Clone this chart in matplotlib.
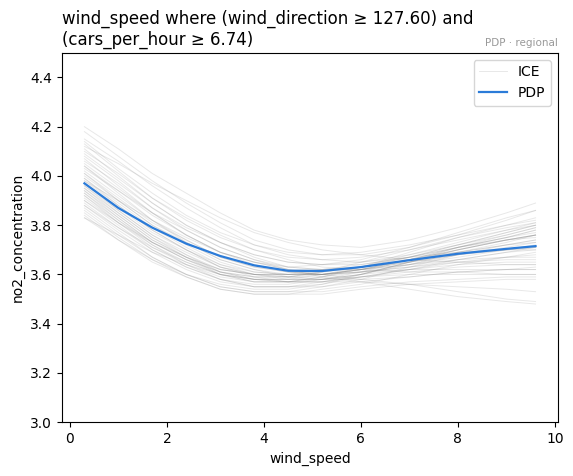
import numpy as np
import matplotlib
matplotlib.use("Agg")
from matplotlib import pyplot as plt

wind_speed = [0.3, 1.0, 1.7, 2.4, 3.1, 3.8, 4.5, 5.2, 6.0, 7.0, 8.0, 9.0, 9.6]

pdp_values = [3.97, 3.87, 3.79, 3.725, 3.675, 3.637, 3.615, 3.614, 3.63, 3.658, 3.684, 3.704, 3.715]

ice_curves = [
    [4.20, 4.11, 4.01, 3.93, 3.85, 3.78, 3.74, 3.72, 3.71, 3.74, 3.79, 3.85, 3.89],
    [4.18, 4.08, 3.98, 3.89, 3.81, 3.74, 3.70, 3.68, 3.68, 3.71, 3.76, 3.82, 3.86],
    [4.15, 4.06, 3.96, 3.87, 3.79, 3.72, 3.68, 3.66, 3.65, 3.67, 3.71, 3.75, 3.78],
    [4.13, 4.02, 3.91, 3.82, 3.75, 3.70, 3.67, 3.66, 3.67, 3.70, 3.74, 3.78, 3.80],
    [4.11, 4.00, 3.89, 3.80, 3.73, 3.68, 3.65, 3.64, 3.65, 3.68, 3.72, 3.76, 3.79],
    [4.10, 4.01, 3.91, 3.83, 3.76, 3.70, 3.66, 3.63, 3.62, 3.61, 3.61, 3.60, 3.60],
    [4.08, 3.98, 3.87, 3.78, 3.71, 3.66, 3.63, 3.62, 3.63, 3.66, 3.70, 3.74, 3.76],
    [4.07, 3.96, 3.85, 3.76, 3.69, 3.65, 3.63, 3.64, 3.66, 3.71, 3.77, 3.83, 3.86],
    [4.05, 3.95, 3.85, 3.76, 3.69, 3.64, 3.61, 3.60, 3.61, 3.63, 3.66, 3.69, 3.70],
    [4.04, 3.93, 3.82, 3.73, 3.66, 3.62, 3.60, 3.60, 3.62, 3.66, 3.71, 3.75, 3.78],
    [4.03, 3.94, 3.85, 3.78, 3.71, 3.66, 3.62, 3.59, 3.57, 3.54, 3.51, 3.49, 3.48],
    [4.02, 3.92, 3.82, 3.74, 3.67, 3.63, 3.61, 3.60, 3.61, 3.64, 3.67, 3.70, 3.72],
    [4.01, 3.90, 3.80, 3.72, 3.65, 3.61, 3.60, 3.61, 3.63, 3.67, 3.72, 3.77, 3.80],
    [4.00, 3.90, 3.80, 3.73, 3.66, 3.62, 3.59, 3.58, 3.58, 3.59, 3.61, 3.62, 3.63],
    [3.99, 3.89, 3.79, 3.71, 3.64, 3.60, 3.58, 3.58, 3.60, 3.64, 3.69, 3.73, 3.76],
    [3.98, 3.88, 3.78, 3.70, 3.63, 3.60, 3.59, 3.60, 3.62, 3.66, 3.70, 3.74, 3.76],
    [3.97, 3.87, 3.77, 3.70, 3.64, 3.61, 3.60, 3.60, 3.62, 3.65, 3.68, 3.70, 3.71],
    [3.97, 3.86, 3.76, 3.68, 3.61, 3.58, 3.57, 3.58, 3.60, 3.65, 3.71, 3.76, 3.79],
    [3.96, 3.86, 3.76, 3.69, 3.63, 3.60, 3.60, 3.60, 3.62, 3.64, 3.66, 3.67, 3.67],
    [3.95, 3.85, 3.75, 3.68, 3.62, 3.60, 3.59, 3.59, 3.61, 3.63, 3.65, 3.66, 3.66],
    [3.95, 3.84, 3.74, 3.67, 3.61, 3.58, 3.58, 3.60, 3.63, 3.68, 3.73, 3.78, 3.81],
    [3.94, 3.84, 3.74, 3.67, 3.62, 3.60, 3.60, 3.62, 3.64, 3.67, 3.69, 3.70, 3.70],
    [3.93, 3.83, 3.73, 3.66, 3.60, 3.57, 3.57, 3.57, 3.59, 3.61, 3.63, 3.64, 3.64],
    [3.93, 3.82, 3.72, 3.64, 3.58, 3.55, 3.55, 3.57, 3.60, 3.65, 3.70, 3.74, 3.76],
    [3.92, 3.82, 3.73, 3.66, 3.61, 3.59, 3.59, 3.61, 3.63, 3.67, 3.71, 3.74, 3.75],
    [3.91, 3.81, 3.72, 3.65, 3.60, 3.58, 3.58, 3.58, 3.60, 3.62, 3.64, 3.65, 3.65],
    [3.90, 3.80, 3.70, 3.63, 3.58, 3.56, 3.56, 3.58, 3.61, 3.66, 3.71, 3.75, 3.77],
    [3.89, 3.79, 3.70, 3.63, 3.58, 3.55, 3.55, 3.55, 3.57, 3.59, 3.61, 3.62, 3.62],
    [3.88, 3.78, 3.69, 3.62, 3.57, 3.55, 3.55, 3.56, 3.59, 3.62, 3.65, 3.67, 3.68],
    [3.87, 3.77, 3.67, 3.60, 3.55, 3.53, 3.53, 3.55, 3.58, 3.63, 3.68, 3.72, 3.74],
    [3.86, 3.76, 3.67, 3.60, 3.55, 3.53, 3.53, 3.53, 3.55, 3.57, 3.58, 3.59, 3.59],
    [3.85, 3.75, 3.66, 3.59, 3.54, 3.52, 3.52, 3.54, 3.56, 3.60, 3.64, 3.67, 3.69],
    [3.84, 3.74, 3.65, 3.59, 3.54, 3.52, 3.52, 3.52, 3.54, 3.56, 3.57, 3.58, 3.58],
    [3.83, 3.74, 3.66, 3.60, 3.56, 3.54, 3.54, 3.56, 3.60, 3.65, 3.70, 3.74, 3.76],
    [3.83, 3.76, 3.69, 3.64, 3.60, 3.58, 3.57, 3.57, 3.57, 3.56, 3.55, 3.54, 3.53],
    [4.06, 3.97, 3.87, 3.79, 3.73, 3.68, 3.65, 3.64, 3.64, 3.67, 3.72, 3.77, 3.80],
    [4.12, 4.05, 3.97, 3.90, 3.83, 3.77, 3.73, 3.70, 3.68, 3.66, 3.65, 3.64, 3.64],
    [4.09, 3.99, 3.89, 3.80, 3.73, 3.67, 3.63, 3.62, 3.62, 3.64, 3.68, 3.71, 3.73],
    [3.98, 3.90, 3.82, 3.75, 3.69, 3.65, 3.62, 3.60, 3.58, 3.56, 3.53, 3.50, 3.49],
    [3.96, 3.85, 3.75, 3.67, 3.60, 3.57, 3.57, 3.59, 3.63, 3.69, 3.75, 3.80, 3.83],
    [3.92, 3.81, 3.71, 3.64, 3.59, 3.57, 3.57, 3.59, 3.62, 3.66, 3.69, 3.72, 3.73],
    [3.90, 3.81, 3.73, 3.67, 3.62, 3.60, 3.60, 3.60, 3.61, 3.62, 3.62, 3.62, 3.62],
    [4.01, 3.91, 3.81, 3.74, 3.67, 3.63, 3.61, 3.60, 3.62, 3.65, 3.69, 3.72, 3.74],
    [3.99, 3.88, 3.78, 3.70, 3.63, 3.59, 3.57, 3.57, 3.59, 3.62, 3.66, 3.69, 3.71],
    [3.94, 3.83, 3.73, 3.66, 3.61, 3.59, 3.59, 3.61, 3.65, 3.70, 3.75, 3.79, 3.81],
    [4.14, 4.03, 3.93, 3.84, 3.77, 3.72, 3.69, 3.68, 3.69, 3.72, 3.76, 3.80, 3.82],
    [3.88, 3.79, 3.71, 3.65, 3.60, 3.58, 3.58, 3.58, 3.59, 3.60, 3.60, 3.60, 3.60],
    [4.04, 3.94, 3.84, 3.76, 3.69, 3.65, 3.62, 3.62, 3.63, 3.65, 3.68, 3.70, 3.71],
]

title = "wind_speed where (wind_direction \u2265 127.60) and\n(cars_per_hour \u2265 6.74)"

fig = plt.figure(figsize=(5.73, 4.76), dpi=100)
ax = fig.add_axes([0.108, 0.113, 0.866, 0.776])

for i, curve in enumerate(ice_curves):
    ax.plot(wind_speed, curve, color="gray", alpha=0.18, lw=0.7,
            label="ICE" if i == 0 else None)
ax.plot(wind_speed, pdp_values, color="#2b7bd8", lw=1.6, label="PDP")

ax.set_ylim(3.0, 4.5)
ax.set_yticks(np.arange(3.0, 4.41, 0.2))
ax.set_xlabel("wind_speed")
ax.set_ylabel("no2_concentration")
ax.set_title(title, loc="left", fontsize=12)
ax.text(1.0, 1.012, "PDP \u00b7 regional", transform=ax.transAxes,
        ha="right", va="bottom", fontsize=7.5, color="#999999")
ax.legend(loc="upper right")

fig.savefig("out.png", dpi=100)
